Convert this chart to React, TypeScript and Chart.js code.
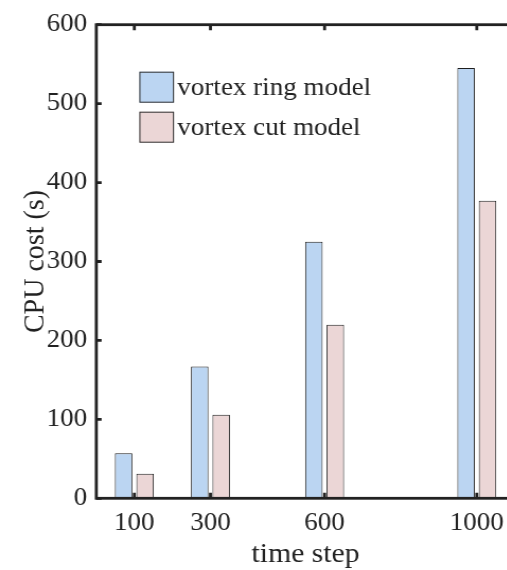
import React, { useEffect, useRef } from 'react';
import { Chart, registerables } from 'chart.js';

Chart.register(...registerables);

// ---- data ----
const timeSteps = [100, 300, 600, 1000];
const ringCost = [57, 167, 325, 545];
const cutCost = [31, 106, 220, 377];
const yTickValues = [0, 100, 200, 300, 400, 500, 600];
const seriesLabels = ['vortex ring model', 'vortex cut model'];
const seriesColors = ['#bbd5f2', '#ebd6d6'];
const xTitle = 'time step';
const yTitle = 'CPU cost (s)';

// ---- layout ----
const STRETCH = 1.06; // slight horizontal stretch of the reference figure
const CANVAS_W = 500;
const CANVAS_H = 570;
const PLOT_LEFT = 90.85;
const PLOT_BOTTOM = 498.3;
const FONT = '"Liberation Serif", "Times New Roman", serif';
const AXIS_COLOR = '#222222';
const TICK_SIZE = 25.5;
const TITLE_SIZE = 28;

const framePlugin = {
  id: 'matlabFrame',
  afterDatasetsDraw(chart: any) {
    const { ctx, chartArea, scales } = chart;
    const { left, right, top, bottom } = chartArea;
    const xs = scales.x;
    const ys = scales.y;
    ctx.save();
    ctx.strokeStyle = AXIS_COLOR;
    ctx.lineWidth = 2.8;
    ctx.lineCap = 'butt';
    xs.ticks.forEach((t: any) => {
      const px = xs.getPixelForValue(t.value);
      ctx.beginPath();
      ctx.moveTo(px, bottom);
      ctx.lineTo(px, bottom - 5.5);
      ctx.moveTo(px, top);
      ctx.lineTo(px, top + 5.5);
      ctx.stroke();
    });
    ys.ticks.forEach((t: any) => {
      const py = ys.getPixelForValue(t.value);
      ctx.beginPath();
      ctx.moveTo(left, py);
      ctx.lineTo(left + 5, py);
      ctx.moveTo(right, py);
      ctx.lineTo(right - 5, py);
      ctx.stroke();
    });
    ctx.strokeRect(left, top, right - left, bottom - top);
    ctx.restore();
  },
};

const legendPlugin = {
  id: 'insetLegend',
  afterDraw(chart: any) {
    const { ctx, chartArea } = chart;
    const x0 = chartArea.left + 40.6;
    const boxW = 32.7;
    const boxH = 31;
    const rowStep = 40;
    ctx.save();
    ctx.font = `${TICK_SIZE}px ${FONT}`;
    ctx.textBaseline = 'middle';
    ctx.textAlign = 'left';
    chart.data.datasets.forEach((ds: any, i: number) => {
      const yTop = chartArea.top + 47 + i * rowStep;
      ctx.fillStyle = ds.backgroundColor;
      ctx.fillRect(x0, yTop, boxW, boxH);
      ctx.strokeStyle = '#333333';
      ctx.lineWidth = 1;
      ctx.strokeRect(x0 + 0.5, yTop + 0.5, boxW - 1, boxH - 1);
      ctx.fillStyle = AXIS_COLOR;
      ctx.fillText(ds.label, x0 + boxW + 3.2, yTop + boxH / 2 + 1);
    });
    ctx.restore();
  },
};

export default function App() {
  const canvasRef = useRef<HTMLCanvasElement | null>(null);

  useEffect(() => {
    const canvas = canvasRef.current;
    if (!canvas) return;
    const series = [ringCost, cutCost];
    const chart = new Chart(canvas, {
      type: 'bar',
      data: {
        datasets: series.map((vals, i) => ({
          label: seriesLabels[i],
          data: timeSteps.map((t, j) => ({ x: t, y: vals[j] })),
          backgroundColor: seriesColors[i],
          borderColor: '#1e1e1e',
          borderWidth: 1,
          categoryPercentage: 0.564,
          barPercentage: 0.816,
        })),
      },
      options: {
        responsive: false,
        animation: false,
        devicePixelRatio: 1,
        layout: { padding: { left: 0, right: 14.3, top: 24.7, bottom: 0 } },
        plugins: {
          legend: { display: false },
          tooltip: { enabled: false },
        },
        scales: {
          x: {
            type: 'linear',
            min: 0,
            max: 1100,
            offset: false,
            grid: { display: false, drawTicks: false, offset: false },
            border: { display: false },
            afterBuildTicks: (s: any) => {
              s.ticks = timeSteps.map((v) => ({ value: v }));
            },
            afterFit: (s: any) => {
              s.height = CANVAS_H - PLOT_BOTTOM;
            },
            ticks: {
              font: { family: FONT, size: TICK_SIZE },
              color: AXIS_COLOR,
              padding: 9.4,
              maxRotation: 0,
              autoSkip: false,
              callback: (v: any) => String(v),
            },
            title: {
              display: true,
              text: xTitle,
              font: { family: FONT, size: TITLE_SIZE },
              color: AXIS_COLOR,
              padding: { top: 0, bottom: -1.5 },
            },
          },
          y: {
            type: 'linear',
            min: 0,
            max: 600,
            grid: { display: false, drawTicks: false },
            border: { display: false },
            afterBuildTicks: (s: any) => {
              s.ticks = yTickValues.map((v) => ({ value: v }));
            },
            afterFit: (s: any) => {
              s.width = PLOT_LEFT;
            },
            ticks: {
              font: { family: FONT, size: TICK_SIZE },
              color: AXIS_COLOR,
              padding: 8.5,
              callback: (v: any) => String(v),
            },
            title: {
              display: true,
              text: yTitle,
              font: { family: FONT, size: TITLE_SIZE },
              color: AXIS_COLOR,
              padding: { top: 16.5, bottom: 0 },
            },
          },
        },
      } as any,
      plugins: [framePlugin, legendPlugin],
    });
    return () => chart.destroy();
  }, []);

  return (
    <div
      style={{
        position: 'fixed',
        left: 0,
        top: 0,
        width: 507,
        height: 570,
        overflow: 'hidden',
        background: '#ffffff',
      }}
    >
      <canvas
        ref={canvasRef}
        width={CANVAS_W}
        height={CANVAS_H}
        style={{ width: `${CANVAS_W * STRETCH}px`, height: `${CANVAS_H}px`, display: 'block' }}
      />
    </div>
  );
}
